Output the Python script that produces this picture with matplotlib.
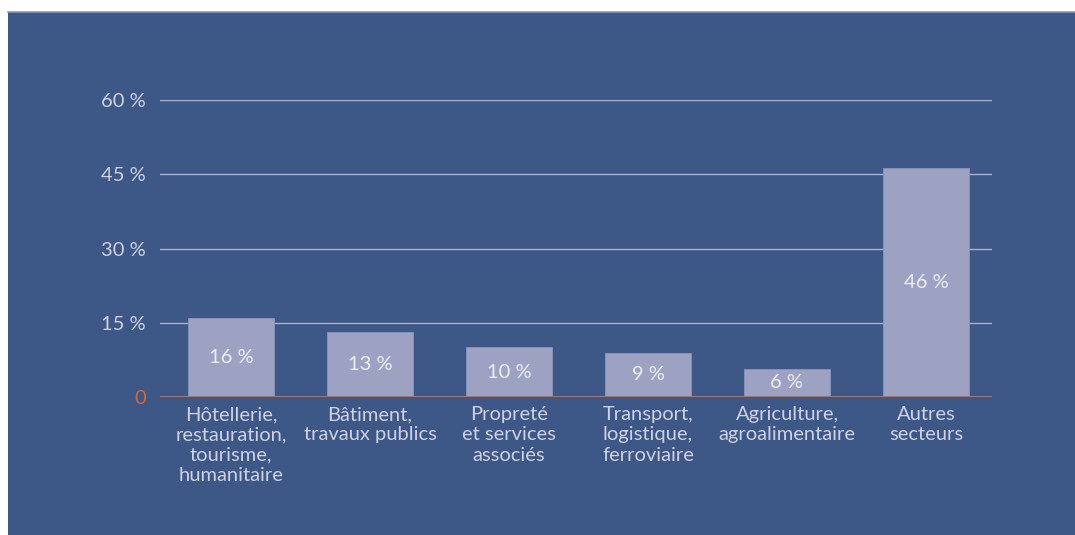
import matplotlib
matplotlib.use("Agg")
import matplotlib.pyplot as plt
from matplotlib.patches import Rectangle
from matplotlib.lines import Line2D

categories = [
    "Hôtellerie,\nrestauration,\ntourisme,\nhumanitaire",
    "Bâtiment,\ntravaux publics",
    "Propreté\net services\nassociés",
    "Transport,\nlogistique,\nferroviaire",
    "Agriculture,\nagroalimentaire",
    "Autres\nsecteurs",
]
values = [16, 13, 10, 9, 6, 46]
bar_heights = [15.9, 13.1, 10.1, 8.9, 5.7, 46.3]
yticks = [0, 15, 30, 45, 60]
ytick_labels = ["0", "15 %", "30 %", "45 %", "60 %"]

BG = "#3d5787"
BAR = "#9ea2c2"
GRID = "#aab2cc"
TXT = "#cdd1e0"
ORANGE = "#d4692f"
FS = 14.5

plt.rcParams['font.family'] = ['Lato', 'DejaVu Sans']

W, H = 1075, 535
fig = plt.figure(figsize=(W / 100, H / 100), dpi=100)
fig.patch.set_facecolor("white")
fig.patches.append(Rectangle((8 / W, 0), 1 - 8 / W, 1 - 12 / H, transform=fig.transFigure,
                             facecolor=BG, edgecolor="none", zorder=-10))
fig.lines.append(Line2D([8 / W, 1], [1 - 12 / H, 1 - 12 / H], transform=fig.transFigure,
                        color="#8f9ab5", lw=1.2, zorder=-9))

x0, x1 = 160 / W, 992 / W
y0, y1 = 1 - 397 / H, 1 - 100 / H
ax = fig.add_axes([x0, y0, x1 - x0, y1 - y0])
ax.set_zorder(5)
ax.set_facecolor("none")
ax.set_xlim(-0.511, 5.475)
ax.set_ylim(0, 60)

for t in yticks[1:]:
    ax.axhline(t, color=GRID, lw=1.0, zorder=1)
ax.axhline(0, color=ORANGE, lw=1.5, zorder=3)

xs = list(range(len(categories)))
ax.bar(xs, bar_heights, width=0.62, color=BAR, edgecolor="#8c93b8", linewidth=0.6, zorder=2)

for x, v, h in zip(xs, values, bar_heights):
    ax.text(x, h / 2, f"{v} %", ha="center", va="center", color="#eceef5", fontsize=FS,
            zorder=4)

for x, c in zip(xs, categories):
    ax.text(x, -1.8, c, ha="center", va="top", color=TXT, fontsize=FS, linespacing=1.24,
            zorder=4)

ax.set_yticks(yticks)
ax.set_yticklabels(ytick_labels)
for lbl in ax.get_yticklabels():
    lbl.set_color(TXT)
    lbl.set_fontsize(FS)
ax.get_yticklabels()[0].set_color(ORANGE)
ax.tick_params(axis="y", length=0, pad=10)
ax.set_xticks([])
for s in ax.spines.values():
    s.set_visible(False)

fig.savefig("out.png", dpi=100, facecolor=fig.get_facecolor())
